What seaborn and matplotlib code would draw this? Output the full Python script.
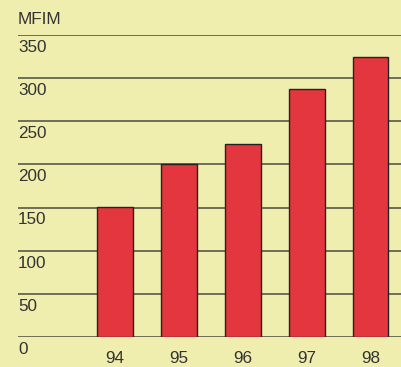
import matplotlib
matplotlib.use("Agg")
import matplotlib.pyplot as plt
import seaborn as sns
import pandas as pd

years = ["94", "95", "96", "97", "98"]
values = [151, 200, 224, 287, 324]
y_ticks = [0, 50, 100, 150, 200, 250, 300, 350]
unit_label = "MFIM"

BG = "#f0eeae"
BAR = "#e3363f"
GRID = "#4a4a42"
TEXT = "#333333"

sns.set_theme(style="white")
plt.rcParams["font.family"] = ["Liberation Sans", "DejaVu Sans"]

fig = plt.figure(figsize=(4.01, 3.67), dpi=100, facecolor=BG)
ax = fig.add_axes([18 / 401, 30 / 367, 383 / 401, 302 / 367])
ax.set_facecolor(BG)

df = pd.DataFrame({"year": years, "value": values})
sns.barplot(data=df, x="year", y="value", color=BAR, saturation=1,
            width=0.5625, edgecolor="#222222", linewidth=1.0, ax=ax, zorder=3)

ax.set_ylim(0, 350)
ax.set_xlim(-1.516, 4.477)

for sp in ax.spines.values():
    sp.set_visible(False)

# horizontal rules at each gridline level
for v in y_ticks:
    ax.axhline(v, color=GRID, linewidth=1.1, zorder=2)

# value labels sit just under each rule, flush left
ax.set_yticks([])
for v in y_ticks:
    ax.annotate(str(v), xy=(0, v), xycoords=("axes fraction", "data"),
                xytext=(0, -3.5), textcoords="offset points",
                ha="left", va="top", fontsize=12.3, color=TEXT)

ax.set_xlabel("")
ax.set_ylabel("")
ax.tick_params(axis="x", length=0, pad=10, labelsize=12.3, labelcolor=TEXT)

fig.text(18 / 401, 1 - 19.5 / 367, unit_label, ha="left", va="center",
         fontsize=12.3, color=TEXT)

fig.savefig("out.png", dpi=100, facecolor=BG)
